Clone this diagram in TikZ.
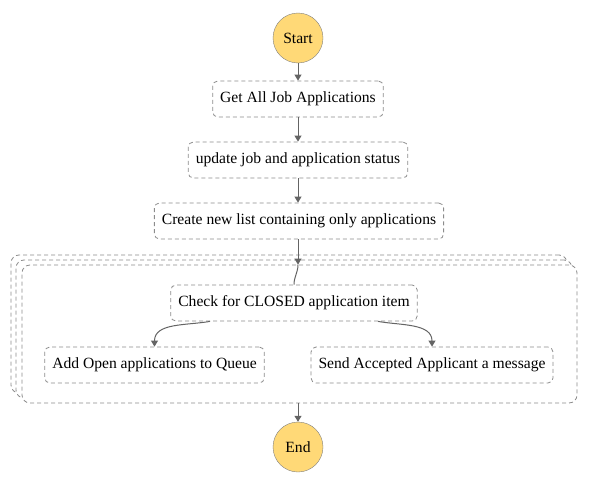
\documentclass[tikz,border=0pt]{standalone}
\usepackage{fontspec}
\setmainfont{Liberation Serif}
\usepackage{tikz}
\usetikzlibrary{arrows.meta}

\definecolor{stategold}{RGB}{255,217,119}
\definecolor{dashgray}{RGB}{140,140,140}
\definecolor{linegray}{RGB}{100,100,100}

\begin{document}
\begin{tikzpicture}[x=1pt, y=-1pt,
        font=\fontsize{15.6}{17}\selectfont,
        terminal/.style={circle, draw=gray, fill=stategold, minimum size=50pt, inner sep=0pt},
        task/.style={draw=dashgray, line width=0.8pt, dash pattern=on 4pt off 3pt, rounded corners=5pt, minimum height=36pt, inner xsep=7.5pt, fill=white},
        mapbox/.style={draw=dashgray, line width=0.8pt, dash pattern=on 4pt off 3pt, rounded corners=8pt, fill=white},
        flow/.style={draw=linegray, line width=1pt, -{Triangle[length=6pt,width=7pt]}}]
        \useasboundingbox (0,0) rectangle (589,482);
        % map state, stacked
        \node[mapbox, minimum width=556pt, minimum height=138pt] (map3) at (289,324) {};
        \node[mapbox, minimum width=556pt, minimum height=138pt] (map2) at (294,329) {};
        \node[mapbox, minimum width=555pt, minimum height=138pt] (map) at (299.5,334) {};
        \node[terminal] (start) at (298,38) {Start};
        \node[task] (get) at (298,99) {Get All Job Applications};
        \node[task] (update) at (298,160) {update job and application status};
        \node[task] (create) at (299,221) {Create new list containing only applications};
        \node[task] (check) at (294,303) {Check for CLOSED application item};
        \node[task] (open) at (154.5,365) {Add Open applications to Queue};
        \node[task] (send) at (432,365) {Send Accepted Applicant a message};
        \node[terminal] (end) at (298,447) {End};
        \draw[flow] (start) -- (get);
        \draw[flow] (get) -- (update);
        \draw[flow] (update) -- (create.north -| update.south);
        \draw[flow] (create.south -| start.south) -- (map.north -| start.south);
        \draw[draw=linegray, line width=1pt] (map.north -| start.south) to[out=-90, in=90] (check.north);
        \draw[flow] ([xshift=-84pt]check.south) to[out=190, in=90] (open.north);
        \draw[flow] ([xshift=84pt]check.south) to[out=-10, in=90] (send.north);
        \draw[flow] (map.south -| end.north) -- (end);
    \end{tikzpicture}
\end{document}
